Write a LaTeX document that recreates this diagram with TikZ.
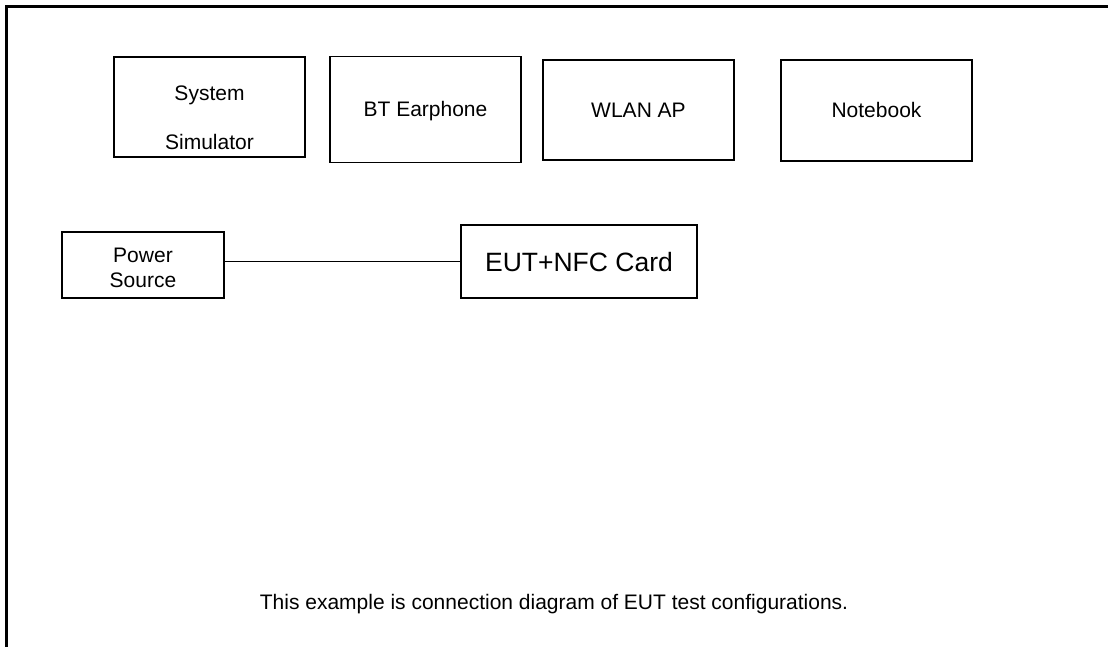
\documentclass[tikz,border=0pt]{standalone}
\usepackage{fontspec}
\setmainfont{Liberation Sans}
\begin{document}
\begin{tikzpicture}[x=1pt,y=-1pt,
  box/.style={draw=black, line width=1.2pt, rectangle, inner sep=0pt, align=center,
    font=\fontsize{21}{25}\selectfont},
  onetext/.style={text height=15pt, text depth=0pt},
  txt/.style={inner sep=0pt, align=center, font=\fontsize{21}{25}\selectfont}]
\useasboundingbox (0,0) rectangle (1108,647);
% outer frame (top and left edges)
\draw[line width=2.2pt] (6.5,647) -- (6.5,6.5) -- (1108,6.5);
% top row
\node[box, minimum width=191pt, minimum height=100pt] (sim) at (209.5,107) {};
\node[txt, font=\fontsize{21}{49}\selectfont] (simtxt) at (209.5,118) {System\\Simulator};
\node[box, onetext, minimum width=191pt, minimum height=106pt] (bt) at (425.5,109.5) {BT Earphone};
\node[box, onetext, minimum width=191pt, minimum height=100pt] (wlan) at (638.5,110) {WLAN AP};
\node[box, onetext, minimum width=191pt, minimum height=101pt] (nb) at (876.5,110.5) {Notebook};
% middle row
\node[box, minimum width=162pt, minimum height=66pt] (ps) at (143,265) {};
\node[txt] (pstxt) at (143,268) {Power\\Source};
\node[box, minimum width=236pt, minimum height=73pt, font=\fontsize{26.5}{30}\selectfont,
  text height=19pt, text depth=0pt] (eut) at (579,261.5) {EUT+NFC Card};
\draw[line width=1.7pt] (ps.east |- eut.west) -- (eut.west);
% caption
\node[txt] (cap) at (554,604) {This example is connection diagram of EUT test configurations.};
\end{tikzpicture}
\end{document}
